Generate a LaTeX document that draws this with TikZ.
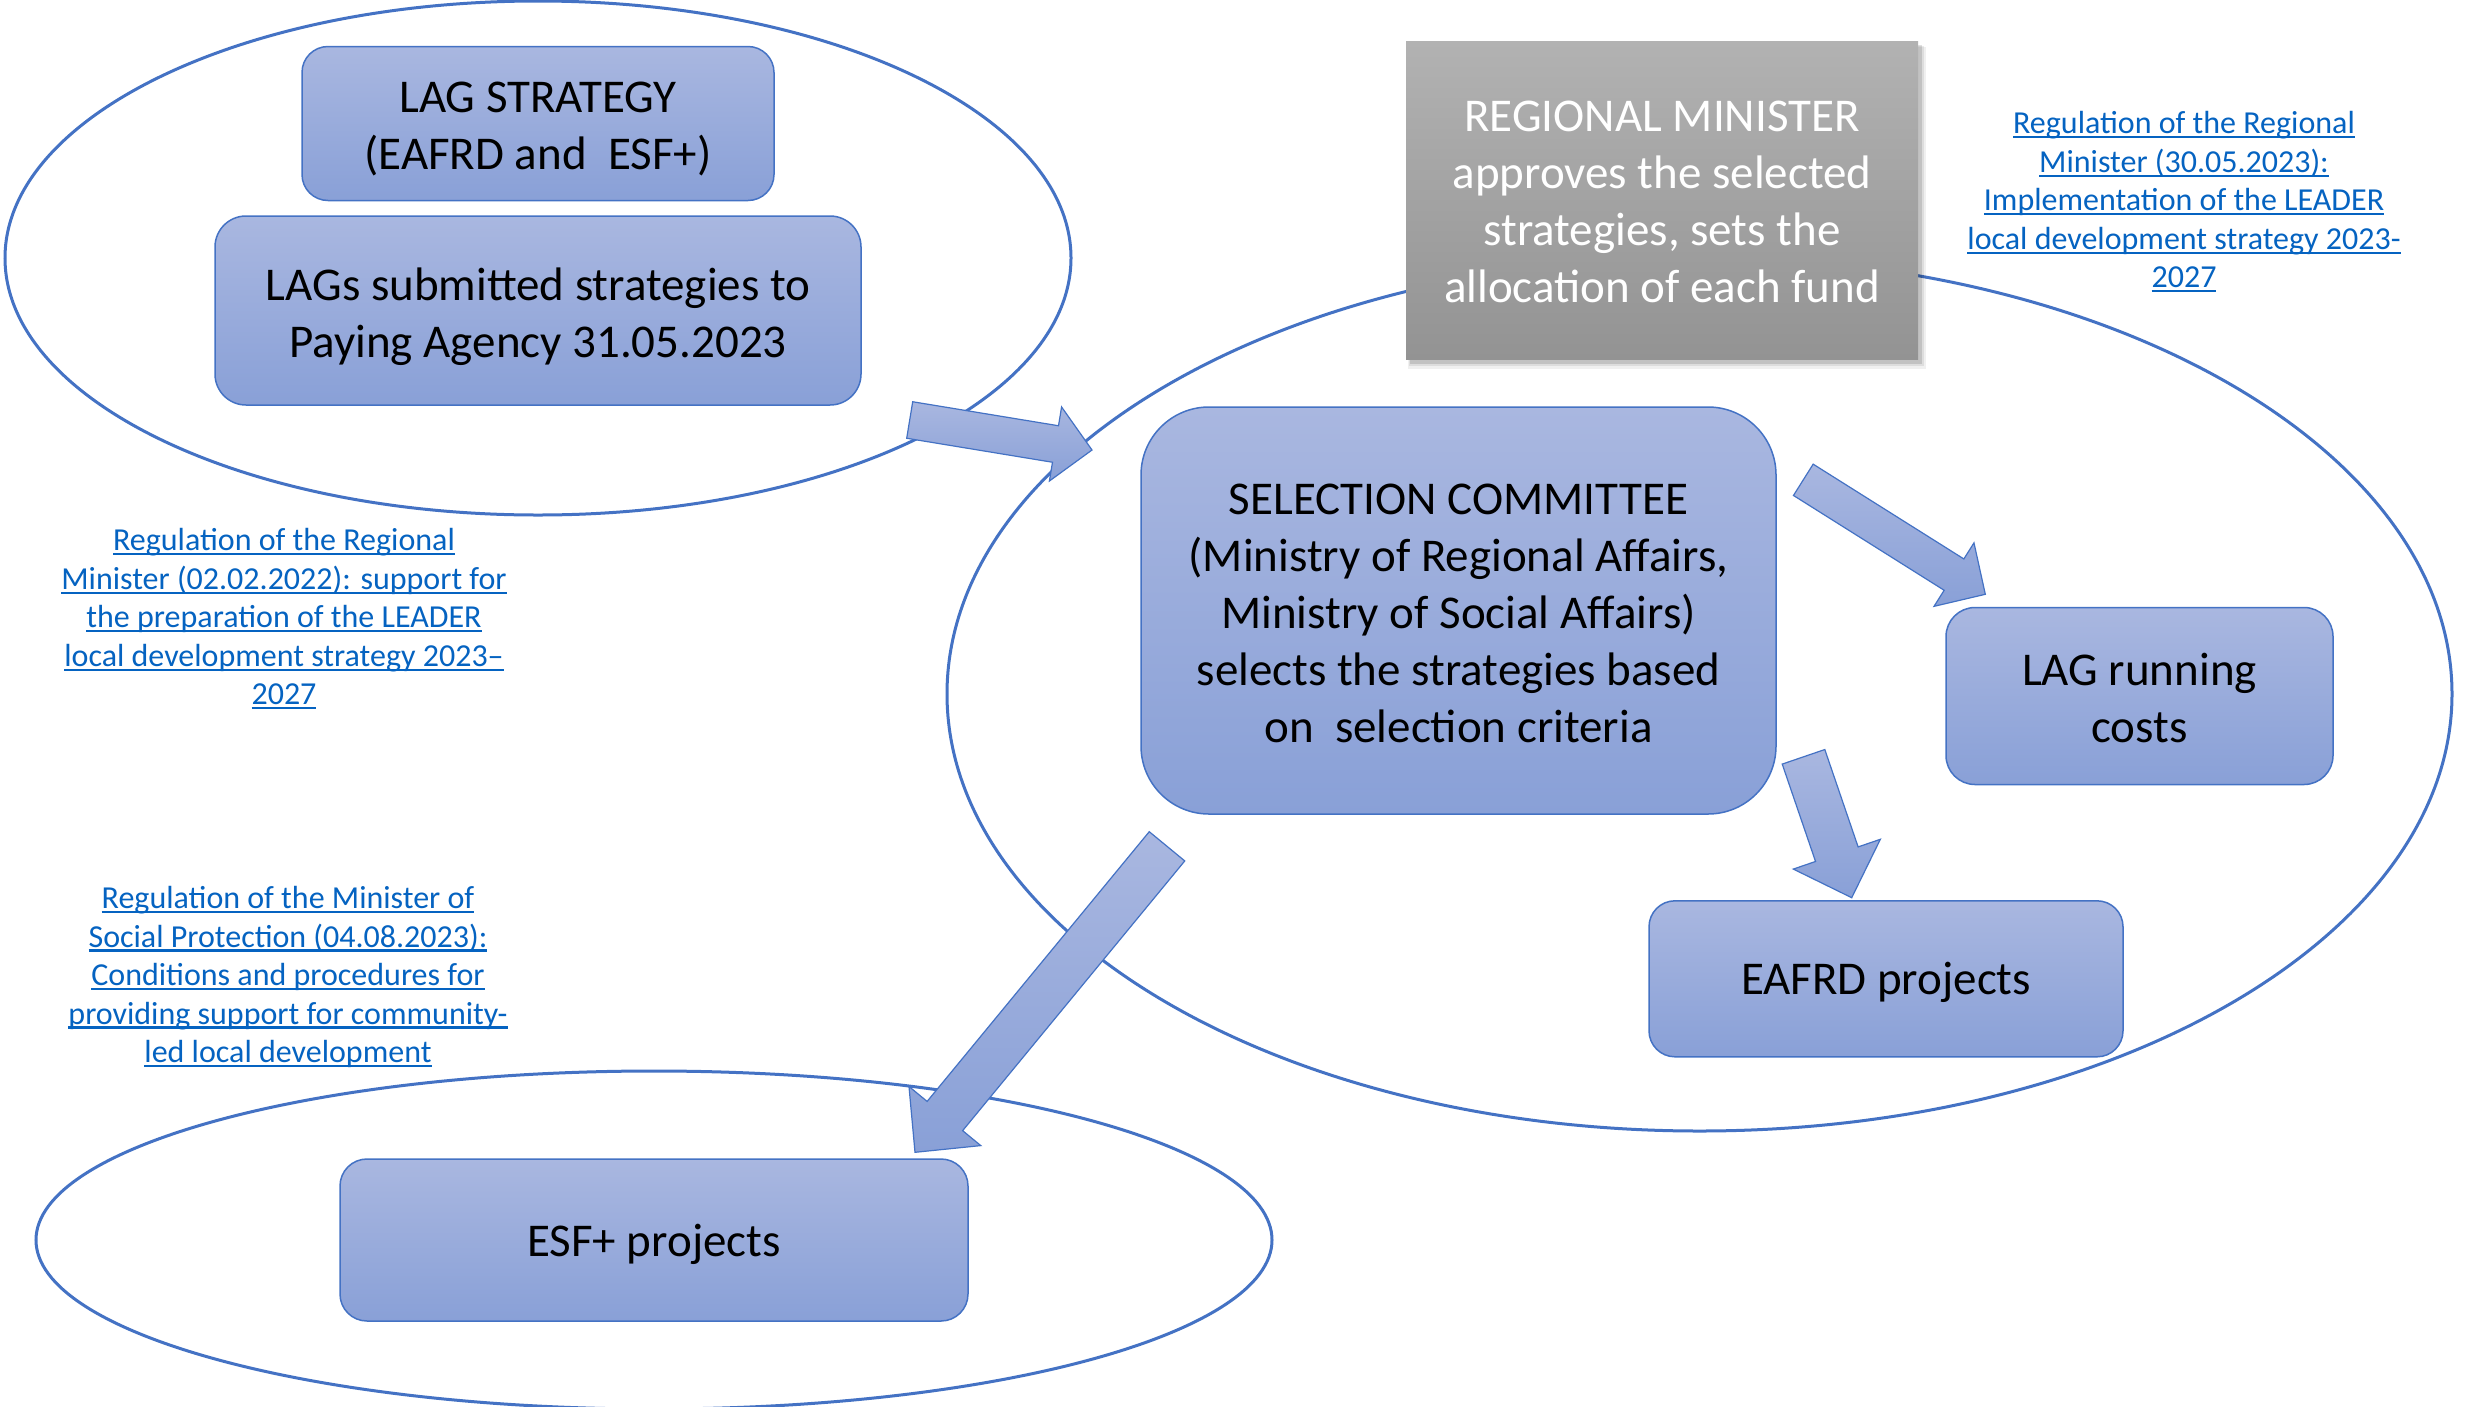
\documentclass[tikz,border=0pt]{standalone}
\usepackage{fontspec}
\setmainfont{Carlito}
\usetikzlibrary{calc}
\definecolor{eblue}{HTML}{4472C4}
\definecolor{btop}{HTML}{A9B7E0}
\definecolor{bbot}{HTML}{89A0D7}
\definecolor{gtop}{HTML}{B2B2B2}
\definecolor{gbot}{HTML}{939393}
\definecolor{linkblue}{HTML}{0563C1}
\newcommand\ulink[1]{\setbox0\hbox{#1}\rlap{\rule[-0.14em]{\wd0}{0.065em}}\box0}
\newcommand\blkarrow[5]{%
  \coordinate (hb) at ($(#2)!#5!(#1)$);
  \draw[barrow] ($(#1)!#3!90:(#2)$) -- ($(hb)!#3!90:(#2)$) -- ($(hb)!#4!90:(#2)$) -- (#2)
     -- ($(hb)!#4!-90:(#2)$) -- ($(hb)!#3!-90:(#2)$) -- ($(#1)!#3!-90:(#2)$) -- cycle;
}
\tikzset{
  ell/.style={draw=eblue, line width=3pt},
  bbox/.style={draw=eblue, line width=1.5pt, top color=btop, bottom color=bbot, inner sep=0pt},
  btext/.style={inner sep=0pt, align=center, font=\fontsize{47}{57}\selectfont},
  gbox/.style={top color=gtop, bottom color=gbot, inner sep=0pt},
  gtext/.style={inner sep=0pt, align=center, text=white, font=\fontsize{47}{57}\selectfont},
  note/.style={align=center, text=linkblue, inner sep=0pt, font=\fontsize{32}{38.5}\selectfont},
  barrow/.style={draw=eblue, line width=1.2pt, top color=btop, bottom color=bbot, line join=miter},
}
\begin{document}
\begin{tikzpicture}[x=1pt,y=-1pt]
\useasboundingbox[fill=white] (0,0) rectangle (2475,1406);

% ellipses
\draw[ell] (538,258) ellipse [x radius=533, y radius=257];
\draw[ell] (1699.5,694) ellipse [x radius=752.5, y radius=437];
\draw[ell] (654,1240) ellipse [x radius=618, y radius=169];

% shadow of grey box
\fill[black, opacity=0.06] (1408,47) rectangle (1926,369);
\fill[black, opacity=0.08] (1409,46) rectangle (1924,366);
\fill[black, opacity=0.12] (1410,45) rectangle (1922,364);

% boxes
\node[bbox, rounded corners=26pt, minimum width=472pt, minimum height=154pt,
  label={[btext, yshift=-6pt]center:{LAG STRATEGY\\(EAFRD and\ \ ESF+)}}] (lagstrat) at (538,123.5) {};
\node[bbox, rounded corners=31pt, minimum width=646pt, minimum height=189pt,
  label={[btext, yshift=-6pt]center:{LAGs submitted strategies to\\Paying Agency 31.05.2023}}] (lagsub) at (538,310.5) {};
\node[gbox, minimum width=512pt, minimum height=318pt,
  label={[gtext, yshift=-2pt]center:{REGIONAL MINISTER\\approves the selected\\strategies, sets the\\allocation of each fund}}] (regmin) at (1662,200) {};
\node[bbox, rounded corners=68pt, minimum width=635pt, minimum height=407pt,
  label={[btext, yshift=-3pt]center:{SELECTION COMMITTEE\\(Ministry of Regional Affairs,\\Ministry of Social Affairs)\\selects the strategies based\\on\ \ selection criteria}}] (selcom) at (1458.5,610.5) {};
\node[bbox, rounded corners=29pt, minimum width=387pt, minimum height=177pt,
  label={[btext, yshift=-2pt]center:{LAG running\\costs}}] (lagrun) at (2139.5,696) {};
\node[bbox, rounded corners=26pt, minimum width=474pt, minimum height=156pt,
  label={[btext, yshift=-4pt]center:{EAFRD projects}}] (eafrd) at (1886,978.8) {};
\node[bbox, rounded corners=27pt, minimum width=628pt, minimum height=162pt,
  label={[btext, yshift=-4pt]center:{ESF+ projects}}] (esf) at (654,1240) {};

% regulation notes
\node[note] (reg1) at (2184,202)
  {\ulink{Regulation of the Regional}\\\ulink{Minister (30.05.2023):}\\\ulink{Implementation of the LEADER}\\\ulink{local development strategy 2023-}\\\ulink{2027}};
\node[note] (reg2) at (284,619)
  {\ulink{Regulation of the Regional}\\\ulink{Minister (02.02.2022): support for}\\\ulink{the preparation of the LEADER}\\\ulink{local development strategy 2023–}\\\ulink{2027}};
\node[note] (reg3) at (288,977)
  {\ulink{Regulation of the Minister of}\\\ulink{Social Protection (04.08.2023):}\\\ulink{Conditions and procedures for}\\\ulink{providing support for community-}\\\ulink{led local development}};

% block arrows
\coordinate (aT) at (909.7,420);   \coordinate (aH) at (1092,450);
\coordinate (bT) at (1803.3,479.8); \coordinate (bH) at (1985.3,594.3);
\coordinate (cT) at (1803.5,756.8); \coordinate (cH) at (1851.7,897.7);
\coordinate (dT) at (1167,846.3);   \coordinate (dH) at (915,1152.3);
\blkarrow{aT}{aH}{18.5pt}{37.5pt}{37pt}
\blkarrow{bT}{bH}{18.5pt}{37.5pt}{37pt}
\blkarrow{cT}{cH}{22.5pt}{46pt}{46pt}
\blkarrow{dT}{dH}{23pt}{46.5pt}{47pt}
\end{tikzpicture}
\end{document}
